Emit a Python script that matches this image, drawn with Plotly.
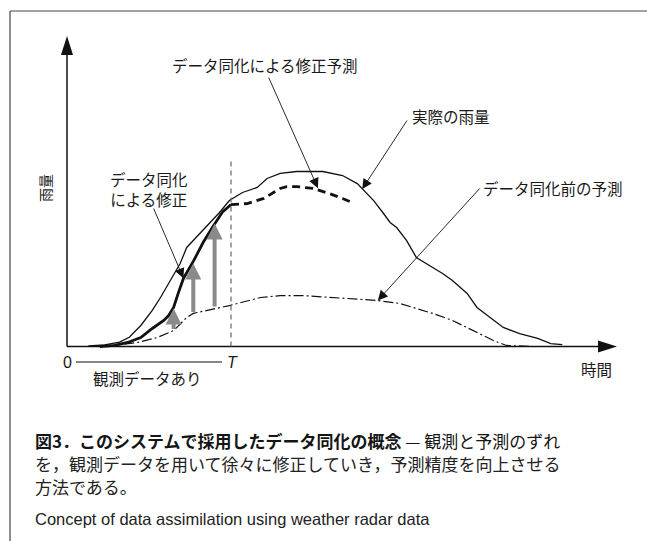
import plotly.graph_objects as go

# ---------------- data (time units: T = 10, rainfall index: peak ~ 100) ----------------
T_OBS = 10.0

actual_t = [1.3, 2.3, 3.2, 3.8, 4.5, 5.2, 5.7, 6.3, 6.9, 7.3, 8.1, 8.7, 9.3, 9.9, 10.7, 11.6, 12.2,
            13.0, 14.0, 15.6, 16.8, 17.7, 18.1, 18.7, 19.3, 19.7, 20.1, 20.7, 21.3, 22.3, 22.9,
            23.5, 24.4, 25.0, 25.8, 26.6, 27.6, 28.7, 29.5, 30.2]
actual_r = [0.3, 0.9, 2.5, 5.3, 12.0, 20.6, 28.0, 37.7, 47.4, 56.6, 64.6, 70.3, 76.6, 83.4, 88.0,
            90.9, 96.0, 98.9, 100.0, 100.0, 97.7, 93.1, 89.1, 83.4, 76.0, 70.9, 68.0, 60.6, 50.9,
            45.1, 41.7, 37.7, 30.3, 22.3, 16.6, 10.9, 7.4, 4.6, 1.7, 1.1]

assim_t = [2.0, 2.9, 3.7, 4.5, 5.2, 5.9, 6.2, 6.5, 6.8, 7.1, 7.7, 8.3, 8.9, 9.5, 9.8, 10.0]
assim_r = [0.0, 0.6, 2.3, 5.1, 10.3, 14.9, 17.7, 22.3, 30.9, 38.9, 48.6, 59.4, 68.6, 77.1, 79.4, 81.1]

corr_fc_t = [10.0, 11.0, 12.0, 13.0, 13.4, 14.0, 15.0, 16.0, 16.8, 17.4]
corr_fc_r = [81.1, 81.7, 84.6, 90.3, 91.4, 91.4, 90.3, 87.4, 84.6, 82.3]

prior_t = [1.3, 2.8, 4.3, 5.5, 6.5, 7.3, 7.7, 9.9, 11.8, 13.0, 14.4, 16.0, 18.9, 20.3, 22.3,
           23.5, 24.8, 26.0, 26.8, 28.4, 30.1]
prior_r = [0.0, 0.6, 2.3, 5.1, 9.1, 16.6, 18.9, 23.4, 28.0, 29.1, 29.1, 28.0, 26.3, 24.6, 18.9,
           14.9, 9.1, 3.4, 0.6, 0.0, 0.0]

incr_t = [6.5, 7.7, 9.0]
incr_from = [9.1, 18.9, 22.0]
incr_to = [21.7, 47.4, 70.3]

label_corr_fc = "データ同化による修正予測"
label_actual = "実際の雨量"
label_prior = "データ同化前の予測"
label_assim = "データ同化<br>による修正"
axis_y_label = "雨量"
axis_x_label = "時間"
obs_label = "観測データあり"
caption_1 = "<b>図3．このシステムで採用したデータ同化の概念</b> — 観測と予測のずれ"
caption_2 = "を，観測データを用いて徐々に修正していき，予測精度を向上させる"
caption_3 = "方法である。"
caption_en = "Concept of data assimilation using weather radar data"

# ---------------- layout geometry ----------------
W, H = 647, 541
X0_PX, Y0_PX = 67.0, 346.5
PX_T, PX_R = 16.4, 1.75

def to_t(px):
    return (px - X0_PX) / PX_T

def to_r(py):
    return (Y0_PX - py) / PX_R

def P(px, py):
    return px / W, 1 - py / H

JP = "Noto Sans CJK JP"
EN = "Liberation Sans, Arial"
TXT = "#1a1a1a"

fig = go.Figure()
fig.add_trace(go.Scatter(x=actual_t, y=actual_r, mode="lines",
                         line=dict(color="#111", width=1.3), hoverinfo="skip"))
fig.add_trace(go.Scatter(x=prior_t, y=prior_r, mode="lines",
                         line=dict(color="#111", width=1.2, dash="10px,3px,2px,3px"), hoverinfo="skip"))
fig.add_trace(go.Scatter(x=assim_t, y=assim_r, mode="lines",
                         line=dict(color="#111", width=2.8), hoverinfo="skip"))
fig.add_trace(go.Scatter(x=corr_fc_t, y=corr_fc_r, mode="lines",
                         line=dict(color="#111", width=2.8, dash="8px,5px"), hoverinfo="skip"))

shapes = []
annotations = []

# axes with arrowheads
x_end, y_end = to_t(617), to_r(36)
shapes.append(dict(type="line", xref="x", yref="y", x0=0, x1=to_t(600), y0=0, y1=0,
                   line=dict(color="#111", width=1.5)))
shapes.append(dict(type="line", xref="x", yref="y", x0=0, x1=0, y0=0, y1=to_r(52),
                   line=dict(color="#111", width=1.5)))
hl, hw = 19.0, 6.0
shapes.append(dict(type="path", xref="x", yref="y",
                   path=f"M {x_end} 0 L {x_end - hl / PX_T} {hw / PX_R} L {x_end - hl / PX_T} {-hw / PX_R} Z",
                   fillcolor="#111", line=dict(width=0)))
shapes.append(dict(type="path", xref="x", yref="y",
                   path=f"M 0 {y_end} L {hw / PX_T} {y_end - hl / PX_R} L {-hw / PX_T} {y_end - hl / PX_R} Z",
                   fillcolor="#111", line=dict(width=0)))

# T dashed line
shapes.append(dict(type="line", xref="x", yref="y", x0=T_OBS, x1=T_OBS, y0=0, y1=to_r(158),
                   line=dict(color="#666", width=1.2, dash="5px,4px")))

# observation period line
x0p, yp = P(76, 362)
x1p, _ = P(222, 362)
shapes.append(dict(type="line", xref="paper", yref="paper", x0=x0p, x1=x1p, y0=yp, y1=yp,
                   line=dict(color="#111", width=1.2)))

# frame
a, b = P(10, 11)
c, _ = P(W + 5, 11)
shapes.append(dict(type="line", xref="paper", yref="paper", x0=a, x1=c, y0=b, y1=b,
                   line=dict(color="#444", width=1.2)))
shapes.append(dict(type="line", xref="paper", yref="paper", x0=a, x1=a, y0=b, y1=-0.02,
                   line=dict(color="#444", width=1.2)))

# gray correction arrows
for t, r0, r1 in zip(incr_t, incr_from, incr_to):
    annotations.append(dict(x=t, y=r1, ax=t, ay=r0, xref="x", yref="y", axref="x", ayref="y",
                            text="", showarrow=True, arrowhead=2, arrowsize=0.8,
                            arrowwidth=4, arrowcolor="#8a8a8a"))

# pointer arrows: (tail px, tip data)
pointers = [
    ((268, 76), (15.3, 90.5)),
    ((408, 119), (18.0, 90.0)),
    ((481, 187), (18.95, 26.3)),
    ((153, 207), (7.1, 39.0)),
]
for (tx, ty), (hx, hy) in pointers:
    annotations.append(dict(x=hx, y=hy, ax=to_t(tx), ay=to_r(ty), xref="x", yref="y",
                            axref="x", ayref="y", text="", showarrow=True, arrowhead=2,
                            arrowsize=2.2, arrowwidth=0.9, arrowcolor="#111"))

def label(text, px, py, size=15.5, family=JP, xanchor="center", yanchor="middle", color=TXT,
          angle=0, align="center"):
    x, y = P(px, py)
    annotations.append(dict(x=x, y=y, xref="paper", yref="paper", text=text, showarrow=False,
                            xanchor=xanchor, yanchor=yanchor, textangle=angle, align=align,
                            font=dict(family=family, size=size, color=color)))

label(label_corr_fc, 265, 65)
label(label_actual, 451, 116)
label(label_prior, 553, 188)
label(label_assim, 149, 189)
label(axis_y_label, 45, 188, size=14, angle=-90)
label(axis_x_label, 596, 369)
label(obs_label, 147, 378)
label("0", 67, 362, size=16, family=EN)
label("<i>T</i>", 232, 362, size=16, family=EN)

label(caption_1, 33, 440, size=17, xanchor="left", color="#151515", align="left")
label(caption_2, 33, 463.2, size=17, xanchor="left", color="#222", align="left")
label(caption_3, 33, 486.4, size=17, xanchor="left", color="#222", align="left")
label(caption_en, 33, 519, size=16.5, family=EN, xanchor="left", color="#222")

fig.update_layout(
    width=W, height=H,
    margin=dict(l=0, r=0, t=0, b=0),
    paper_bgcolor="white", plot_bgcolor="white",
    showlegend=False,
    xaxis=dict(visible=False, range=[to_t(0), to_t(W)], fixedrange=True),
    yaxis=dict(visible=False, range=[to_r(H), to_r(0)], fixedrange=True),
    shapes=shapes, annotations=annotations,
)

fig.write_html("out.html", config={"displayModeBar": False},
               post_script="document.body.style.margin='0';document.body.style.overflow='hidden';")
